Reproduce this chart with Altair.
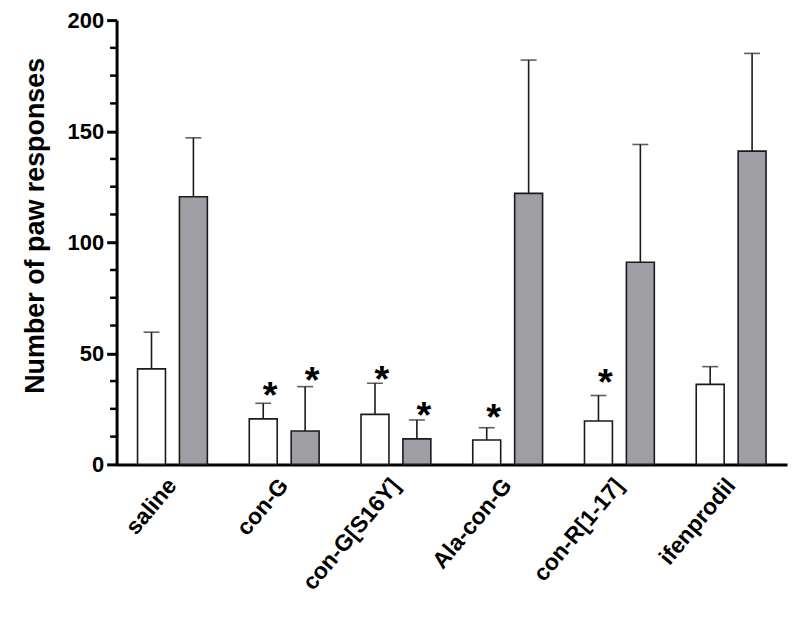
import altair as alt
import pandas as pd

groups = ["saline", "con-G", "con-G[S16Y]", "Ala-con-G", "con-R[1-17]", "ifenprodil"]
series = ["open", "filled"]
open_vals = [43, 20.5, 22.5, 11, 19.5, 36]
open_err = [59.5, 27.5, 36.5, 16.5, 31, 44]
filled_vals = [120.5, 15, 11.5, 122, 91, 141]
filled_err = [147, 35, 20, 182, 144, 185]
# asterisk markers: (group, series, y of marker)
star_groups = ["con-G", "con-G", "con-G[S16Y]", "con-G[S16Y]", "Ala-con-G", "con-R[1-17]"]
star_series = ["open", "filled", "open", "filled", "open", "open"]
star_y = [35, 41.7, 42.2, 26, 25.1, 40.8]
major_ticks = [0, 50, 100, 150, 200]
minor_ticks = [12.5, 25, 37.5, 62.5, 75, 87.5, 112.5, 125, 137.5, 162.5, 175, 187.5]

rows = []
for i, g in enumerate(groups):
    rows.append({"group": g, "series": "open", "value": open_vals[i], "upper": open_err[i]})
    rows.append({"group": g, "series": "filled", "value": filled_vals[i], "upper": filled_err[i]})
df = pd.DataFrame(rows)
stars = pd.DataFrame({"group": star_groups, "series": star_series, "y": star_y, "t": ["*"] * len(star_y)})
minor_df = pd.DataFrame({"v": minor_ticks})

FONT = "Liberation Sans"
W, H = 673, 446

x_enc = alt.X(
    "group:N",
    sort=groups,
    scale=alt.Scale(paddingInner=0, paddingOuter=0),
    axis=alt.Axis(
        title=None,
        ticks=False,
        labelAngle=-50,
        labelAlign="right",
        labelBaseline="middle",
        labelPadding=17,
        labelFontSize=23,
        labelFontWeight="bold",
        labelFont=FONT,
        labelColor="black",
        domainColor="black",
        domainWidth=3,
    ),
)
xo_enc = alt.XOffset("series:N", sort=series, scale=alt.Scale(paddingInner=1 / 3, paddingOuter=0.5))

y_scale = alt.Scale(domain=[0, 200], nice=False)

bars = alt.Chart(df).mark_bar(stroke="#1a1a1a", strokeWidth=1.6).encode(
    x=x_enc,
    xOffset=xo_enc,
    y=alt.Y(
        "value:Q",
        scale=y_scale,
        axis=alt.Axis(
            title="Number of paw responses",
            titleFont=FONT,
            titleFontSize=27,
            titleFontWeight="bold",
            titleColor="black",
            titlePadding=18,
            titleY=206,
            values=major_ticks,
            tickSize=10,
            tickWidth=3,
            tickColor="black",
            domainColor="black",
            domainWidth=3,
            grid=False,
            labelFont=FONT,
            labelFontSize=22,
            labelFontWeight="bold",
            labelColor="black",
            labelPadding=3,
        ),
    ),
    color=alt.Color("series:N", scale=alt.Scale(domain=series, range=["#ffffff", "#9e9fa4"]), legend=None),
)

minor = alt.Chart(minor_df).mark_rule(color="black", strokeWidth=2.5).encode(
    y=alt.Y("v:Q", scale=y_scale),
    x=alt.value(-6.5),
    x2=alt.value(0),
)

stems = alt.Chart(df).mark_rule(color="#1a1a1a", strokeWidth=1.6).encode(
    x=alt.X("group:N", sort=groups),
    xOffset=alt.XOffset("series:N", sort=series),
    y=alt.Y("value:Q", scale=y_scale),
    y2="upper:Q",
)

caps = alt.Chart(df).mark_tick(color="#1a1a1a", thickness=1.6, size=16, orient="horizontal").encode(
    x=alt.X("group:N", sort=groups),
    xOffset=alt.XOffset("series:N", sort=series),
    y=alt.Y("upper:Q", scale=y_scale),
)

star_marks = alt.Chart(stars).mark_text(
    font=FONT, fontSize=38, fontWeight="bold", color="black", baseline="alphabetic", dx=7, dy=21
).encode(
    x=alt.X("group:N", sort=groups),
    xOffset=alt.XOffset("series:N", sort=series),
    y=alt.Y("y:Q", scale=y_scale),
    text="t:N",
)

chart = (
    alt.layer(bars, stems, caps, star_marks, minor)
    .properties(width=W, height=H, padding={"left": 13, "top": 0, "right": 5, "bottom": 5})
    .configure_view(stroke=None)
)

chart.save("out.html", embed_options={"renderer": "svg", "actions": False})
